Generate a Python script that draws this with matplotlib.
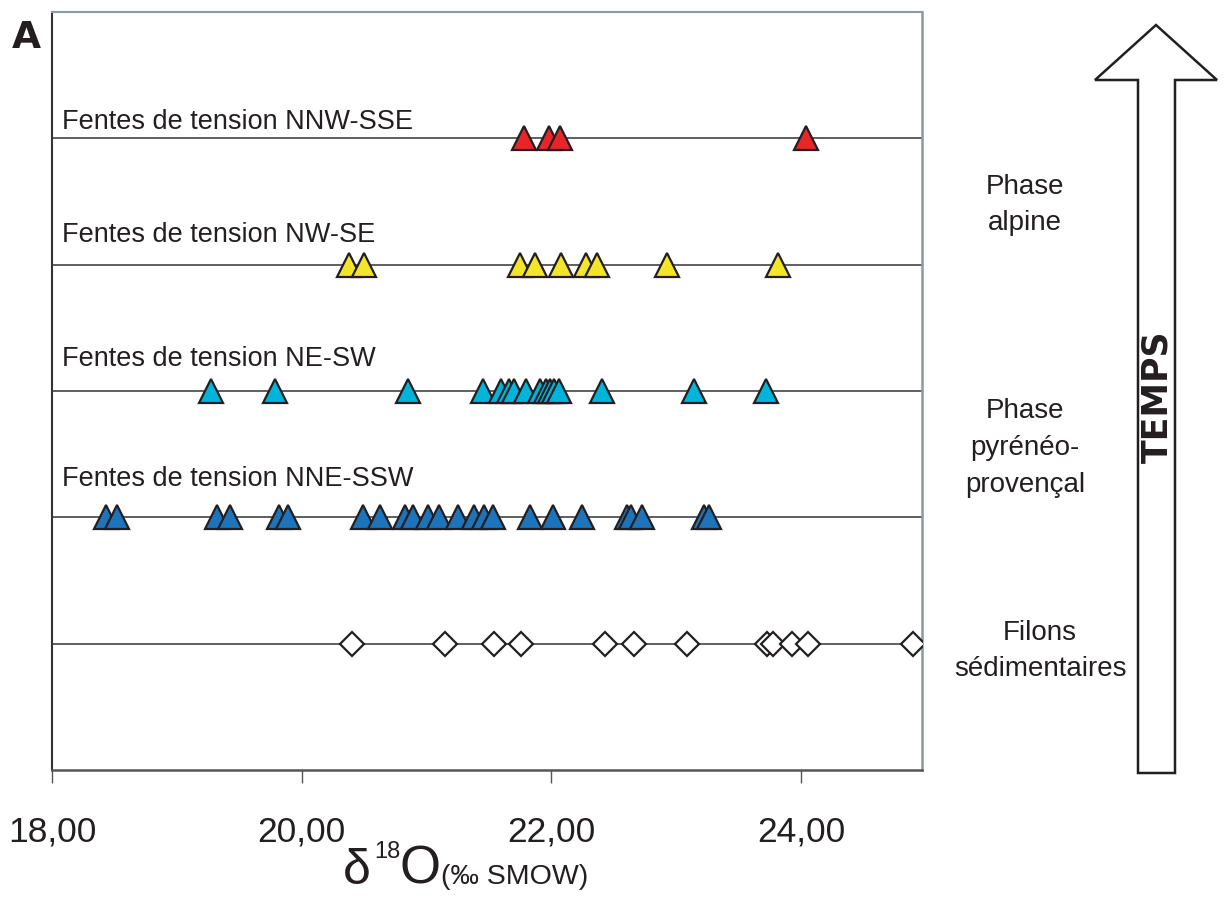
import matplotlib.pyplot as plt
from matplotlib.patches import Polygon

# valeurs delta18O
nnw_sse = [21.78, 21.98, 22.07, 24.04]
nw_se = [20.38, 20.50, 21.75, 21.87, 22.08, 22.28, 22.37, 22.93, 23.82]
ne_sw = [19.27, 19.79, 20.85, 21.45, 21.60, 21.66, 21.70, 21.80, 21.91,
         21.96, 21.99, 22.02, 22.06, 22.41, 23.14, 23.72]
nne_ssw = [18.43, 18.52, 19.32, 19.43, 19.82, 19.89, 20.49, 20.63, 20.83,
           20.89, 21.01, 21.10, 21.25, 21.38, 21.46, 21.53, 21.83, 22.01,
           22.25, 22.61, 22.64, 22.73, 23.22, 23.26]
filons = [20.40, 21.15, 21.54, 21.76, 22.43, 22.66, 23.09, 23.73, 23.78,
          23.93, 24.06, 24.90]

rows = [nnw_sse, nw_se, ne_sw, nne_ssw, filons]
row_y = [5, 4, 3, 2, 1]
row_names = ["Fentes de tension NNW-SSE", "Fentes de tension NW-SE",
             "Fentes de tension NE-SW", "Fentes de tension NNE-SSW", None]
label_y = [5.07, 4.18, 3.20, 2.25]
colors = ["#e8262a", "#f3e52a", "#00b5d9", "#1e74bb", "white"]
markers = ["^", "^", "^", "^", "D"]
sizes = [17.5, 17.5, 17.5, 17.5, 12.3]

xticks = [18, 20, 22, 24]
xticklabels = ["18,00", "20,00", "22,00", "24,00"]

phases = ["Phase\nalpine", "Phase\npyrénéo-\nprovençal", "Filons\nsédimentaires"]
phase_pos = [(1025, 205), (1025, 448), (1040, 651)]

W, H = 1224, 899
fig = plt.figure(figsize=(W / 100, H / 100), dpi=100)
ax = fig.add_axes([52 / W, 1 - 770 / H, 870 / W, 758 / H])

font = 'Liberation Sans'
ink = "#231f20"

for vals, y, c, m, s in zip(rows, row_y, colors, markers, sizes):
    ax.axhline(y, color="#333333", lw=1.1, zorder=1)
    ax.plot(vals, [y] * len(vals), linestyle="none", marker=m, ms=s,
            mfc=c, mec=ink, mew=1.6, zorder=3)

for name, y in zip(row_names, label_y):
    if name:
        ax.text(18.08, y, name, fontsize=19.5, family=font,
                va='baseline', ha='left', color=ink)

ax.set_xlim(18, 24.97)
ax.set_ylim(0, 6)
ax.set_yticks([])
ax.set_xticks(xticks)
ax.set_xticklabels(xticklabels, family=font, fontsize=25.5, color=ink)
ax.tick_params(axis='x', direction='out', length=9, width=1,
               color="#555555", pad=24)
ax.spines['left'].set_color("#333333")
ax.spines['bottom'].set_color("#555555")
ax.spines['bottom'].set_linewidth(1.8)
ax.spines['left'].set_linewidth(1.5)
ax.spines['top'].set_color("#8c9aa3")
ax.spines['right'].set_color("#8c9aa3")
ax.spines['top'].set_linewidth(1.5)
ax.spines['right'].set_linewidth(1.8)

# titre de l'axe x : delta, exposant 18, O, unite
base = 1 - 884 / H
fig.text(343 / W, base, "δ", fontsize=36, family=font,
         ha='left', va='baseline', color=ink)
fig.text(374 / W, 1 - 858 / H, "18", fontsize=17, family=font,
         ha='left', va='baseline', color=ink)
fig.text(400 / W, base, "O", fontsize=38, family=font,
         ha='left', va='baseline', color=ink)
fig.text(441 / W, base, "(‰ SMOW)", fontsize=20.5, family=font,
         ha='left', va='baseline', color=ink)

fig.text(12 / W, 1 - 48 / H, "A", fontsize=27, fontweight='heavy',
         family='DejaVu Sans', ha='left', va='baseline', color=ink)

for txt, (px, py) in zip(phases, phase_pos):
    fig.text(px / W, 1 - py / H, txt, fontsize=20, family=font,
             ha='center', va='center', linespacing=1.55, color=ink)

# fleche du temps
pts = [(1156, 25), (1217, 80), (1175, 80), (1175, 773), (1138, 773),
       (1138, 80), (1095, 80)]
arrow = Polygon([(x / W, 1 - y / H) for x, y in pts], closed=True,
                transform=fig.transFigure, facecolor='white',
                edgecolor=ink, lw=1.8)
fig.patches.append(arrow)
fig.text(1157 / W, 1 - 397 / H, "TEMPS", rotation=90, fontsize=25,
         fontweight='heavy', family='DejaVu Sans', ha='center', va='center',
         color=ink)

fig.savefig("out.png", dpi=100)
